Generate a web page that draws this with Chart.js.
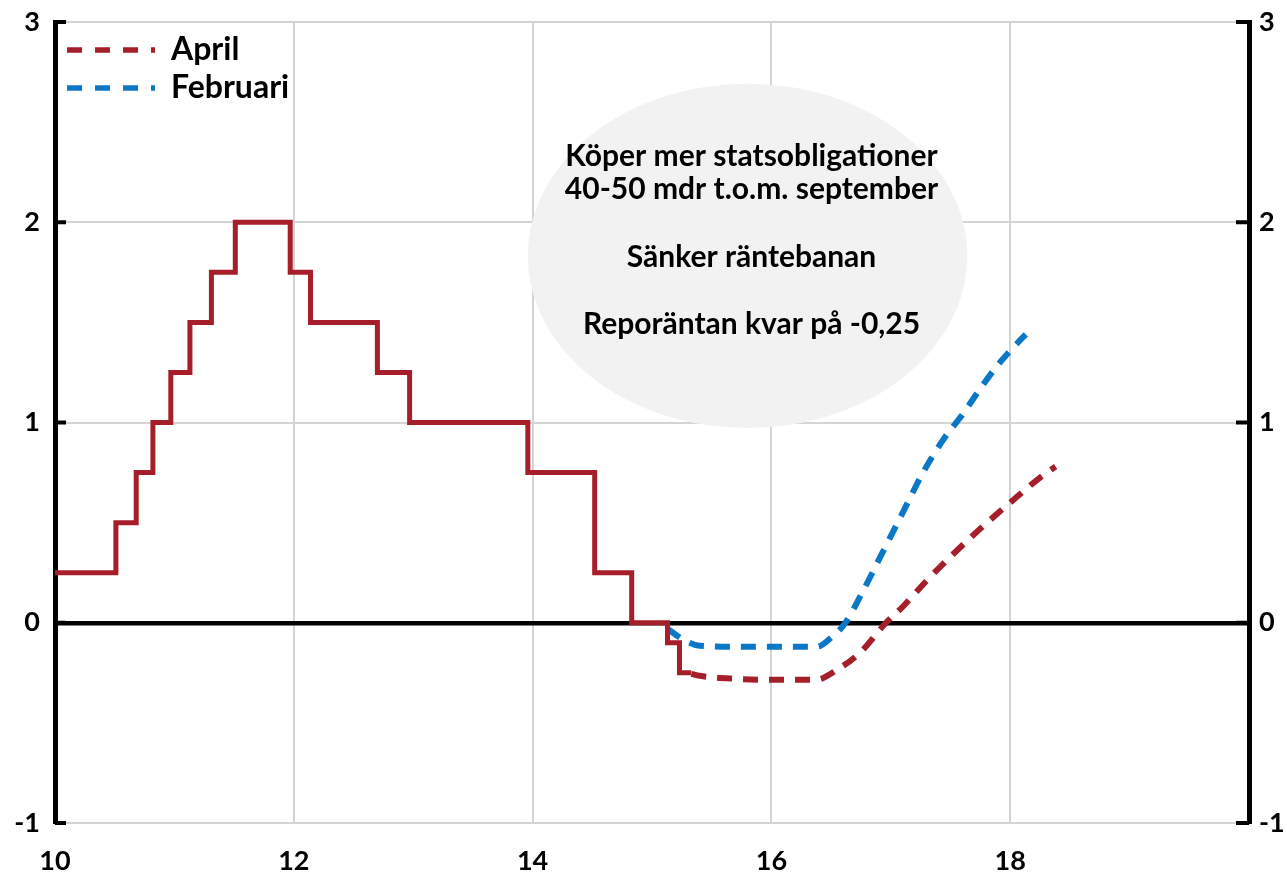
<!DOCTYPE html>
<html>
<head>
<meta charset="utf-8">
<script src="https://cdn.jsdelivr.net/npm/chart.js@4.4.1/dist/chart.umd.min.js"></script>
<style>
html,body{margin:0;padding:0;background:#fff;}
#wrap{width:1287px;height:876px;position:relative;}
</style>
</head>
<body>
<div id="wrap"><canvas id="c"></canvas></div>
<script>
// ---- data ----
// Outcome: repo rate change dates (year, 10 = 2010) and new level
const outcomeX = [10.0, 10.51, 10.68, 10.82, 10.97, 11.13, 11.31, 11.51, 11.97, 12.14, 12.70, 12.97, 13.96, 14.52, 14.83, 15.13, 15.23, 15.33];
const outcomeY = [0.25, 0.5, 0.75, 1.0, 1.25, 1.5, 1.75, 2.0, 1.75, 1.5, 1.25, 1.0, 0.75, 0.25, 0.0, -0.1, -0.25, -0.25];
// April forecast
const aprilX = [15.33, 15.4, 15.7, 16.0, 16.37, 16.55, 16.75, 16.96, 17.1, 17.3, 17.5, 17.75, 18.0, 18.25, 18.38];
const aprilY = [-0.255, -0.265, -0.28, -0.285, -0.285, -0.235, -0.145, 0.0, 0.08, 0.21, 0.33, 0.47, 0.6, 0.725, 0.78];
// Februari forecast
const febX = [15.13, 15.25, 15.4, 15.7, 16.0, 16.38, 16.5, 16.62, 16.76, 16.93, 17.1, 17.27, 17.44, 17.6, 17.75, 17.9, 18.05, 18.13];
const febY = [-0.03, -0.08, -0.115, -0.12, -0.12, -0.12, -0.075, 0.0, 0.15, 0.35, 0.55, 0.75, 0.915, 1.04, 1.17, 1.29, 1.39, 1.44];
const seriesNames = ['Utfall', 'April', 'Februari'];
const xTickValues = [10, 12, 14, 16, 18];
const yTickValues = [-1, 0, 1, 2, 3];
const noteLines = ['Köper mer statsobligationer', '40-50 mdr t.o.m. september', '', 'Sänker räntebanan', '', 'Reporäntan kvar på -0,25'];

// ---- styling / layout ----
const RED = '#A61E2A';
const BLUE = '#0A78C6';
const FONT = 'Lato';
const DASH = [15, 11];
const note = { cx: 15.80, cy: 1.832, rx: 1.84, ry: 0.86 };

const toPts = (xs, ys) => xs.map((x, i) => ({ x: x, y: ys[i] }));

const noteBubble = {
  id: 'noteBubble',
  beforeDatasetsDraw(chart) {
    const { ctx } = chart;
    const xs = chart.scales.x, ys = chart.scales.y;
    const cx = xs.getPixelForValue(note.cx);
    const cy = ys.getPixelForValue(note.cy);
    const rx = Math.abs(xs.getPixelForValue(note.cx + note.rx) - cx);
    const ry = Math.abs(ys.getPixelForValue(note.cy + note.ry) - cy);
    ctx.save();
    ctx.fillStyle = '#f2f2f2';
    ctx.beginPath();
    ctx.ellipse(cx, cy, rx, ry, 0, 0, Math.PI * 2);
    ctx.fill();
    ctx.fillStyle = '#000';
    ctx.font = 'bold 30px ' + FONT;
    ctx.textAlign = 'center';
    ctx.textBaseline = 'alphabetic';
    const n = noteLines.length;
    noteLines.forEach((t, i) => {
      if (t) ctx.fillText(t, cx + 4, cy - 6 + (i - (n - 1) / 2) * 33.6);
    });
    ctx.restore();
  }
};

const axisTicks = {
  id: 'axisTicks',
  afterDraw(chart) {
    const { ctx, chartArea: ca } = chart;
    const ys = chart.scales.y;
    ctx.save();
    ctx.strokeStyle = '#000';
    ctx.lineWidth = 4;
    ys.ticks.forEach(t => {
      const py = ys.getPixelForValue(t.value);
      ctx.beginPath();
      ctx.moveTo(ca.left, py); ctx.lineTo(ca.left + 11, py);
      ctx.moveTo(ca.right, py); ctx.lineTo(ca.right - 13, py);
      ctx.stroke();
    });
    ctx.restore();
  }
};

const legendPlace = {
  id: 'legendPlace',
  afterLayout(chart) {
    const lg = chart.legend;
    if (!lg) return;
    const ca = chart.chartArea;
    lg.left = ca.left + 6;
    lg.top = ca.top + 6;
    lg.right = lg.left + lg.width;
    lg.bottom = lg.top + lg.height;
  }
};

function noPad(s) { s.paddingTop = 0; s.paddingBottom = 0; }

function draw() {
  Chart.defaults.font.family = FONT;
  Chart.defaults.font.weight = 'bold';
  Chart.defaults.color = '#000';
  const tickFont = { family: FONT, size: 27, weight: 'bold' };

  new Chart(document.getElementById('c'), {
    type: 'line',
    data: {
      datasets: [
        {
          label: seriesNames[0], data: toPts(outcomeX, outcomeY),
          borderColor: RED, backgroundColor: RED, borderWidth: 5,
          stepped: 'before', pointRadius: 0, borderJoinStyle: 'miter', yAxisID: 'y'
        },
        {
          label: seriesNames[1], data: toPts(aprilX, aprilY),
          borderColor: RED, backgroundColor: RED, borderWidth: 6, borderDash: DASH,
          cubicInterpolationMode: 'monotone', pointRadius: 0, yAxisID: 'y'
        },
        {
          label: seriesNames[2], data: toPts(febX, febY),
          borderColor: BLUE, backgroundColor: BLUE, borderWidth: 6, borderDash: DASH,
          cubicInterpolationMode: 'monotone', pointRadius: 0, yAxisID: 'y'
        }
      ]
    },
    options: {
      responsive: true,
      maintainAspectRatio: false,
      animation: false,
      layout: { padding: { top: 22, left: 0, right: 0, bottom: 0 } },
      plugins: {
        tooltip: { enabled: false },
        legend: {
          position: 'chartArea',
          align: 'start',
          labels: {
            font: { family: FONT, size: 32, weight: 'bold' },
            color: '#000',
            usePointStyle: true,
            pointStyle: 'line',
            pointStyleWidth: 88,
            padding: 6,
            filter: (item) => item.datasetIndex !== 0,
            generateLabels: (chart) => Chart.defaults.plugins.legend.labels.generateLabels(chart).map(it => {
              const ds = chart.data.datasets[it.datasetIndex];
              return Object.assign({}, it, {
                lineDash: [15, 13], lineWidth: 5.5, strokeStyle: ds.borderColor, fillStyle: ds.borderColor, lineCap: 'butt'
              });
            })
          }
        }
      },
      scales: {
        x: {
          type: 'linear', min: 10, max: 20,
          afterBuildTicks: (s) => { s.ticks = xTickValues.concat([20]).map(v => ({ value: v })); },
          afterFit: (s) => { s.height = 53; },
          border: { display: false },
          grid: {
            drawTicks: false,
            lineWidth: 2,
            color: (c) => (c.tick && (c.tick.value === 10 || c.tick.value === 20)) ? 'rgba(0,0,0,0)' : '#d4d4d4'
          },
          ticks: {
            font: tickFont, color: '#000', padding: 22, maxRotation: 0, autoSkip: false,
            callback: (v) => xTickValues.includes(v) ? String(v) : ''
          }
        },
        y: {
          type: 'linear', position: 'left', min: -1, max: 3,
          afterBuildTicks: (s) => { s.ticks = yTickValues.map(v => ({ value: v })); },
          afterFit: (s) => { s.width = 55; noPad(s); },
          border: { display: true, color: '#000', width: 5 },
          grid: {
            drawTicks: false,
            color: (c) => (c.tick && c.tick.value === 0) ? '#000' : '#d4d4d4',
            lineWidth: (c) => (c.tick && c.tick.value === 0) ? 4.5 : 2
          },
          ticks: { font: tickFont, color: '#000', padding: 15 }
        },
        y2: {
          type: 'linear', position: 'right', min: -1, max: 3,
          afterBuildTicks: (s) => { s.ticks = yTickValues.map(v => ({ value: v })); },
          afterFit: (s) => { s.width = 38; noPad(s); },
          border: { display: true, color: '#000', width: 5 },
          grid: { display: false, drawTicks: false },
          ticks: { font: tickFont, color: '#000', padding: 10 }
        }
      }
    },
    plugins: [noteBubble, axisTicks, legendPlace]
  });
}

if (document.fonts && document.fonts.load) {
  Promise.all([document.fonts.load('bold 28px Lato')]).then(draw, draw);
} else {
  draw();
}
</script>
</body>
</html>
